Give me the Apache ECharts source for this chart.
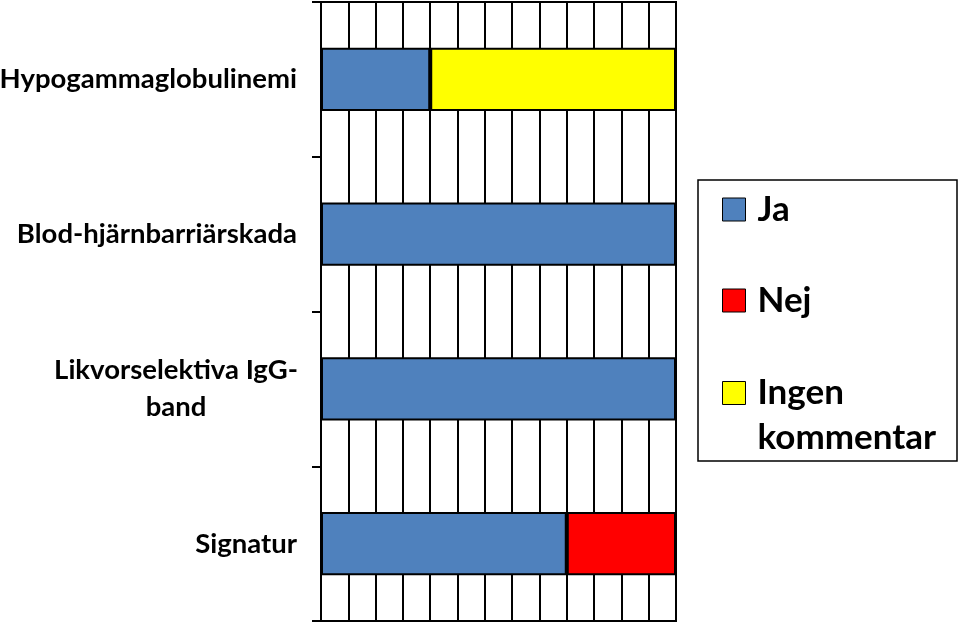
<!DOCTYPE html>
<html>
<head>
<meta charset="utf-8">
<script src="https://cdn.jsdelivr.net/npm/echarts@6/dist/echarts.min.js"></script>
<style>html,body{margin:0;padding:0;background:#fff;}#c{width:960px;height:624px;}</style>
</head>
<body>
<div id="c"></div>
<script>
const categories = ['Hypogammaglobulinemi', 'Blod-hjärnbarriärskada', 'Likvorselektiva IgG-band', 'Signatur'];
const jaValues = [4, 13, 13, 9];
const nejValues = [0, 0, 0, 4];
const ingenValues = [9, 0, 0, 0];
const seriesNames = ['Ja', 'Nej', 'Ingen kommentar'];
const xMin = 0, xMax = 13, xStep = 1;

const chart = echarts.init(document.getElementById('c'));
const font = 'Lato';
const barStyle = (color) => ({ color: color, borderColor: '#000', borderWidth: 2 });
const legendText = { fontFamily: font, fontWeight: 'bold', fontSize: 35, color: '#000', lineHeight: 44 };
const legendRich = {
  p: { fontSize: 10, lineHeight: 44 },
  a: { fontFamily: font, fontWeight: 'bold', fontSize: 35, color: '#000', lineHeight: 45, padding: [0, 0, 0, 7] }
};

chart.setOption({
  animation: false,
  backgroundColor: '#fff',
  grid: { left: 321, top: 2, width: 355, height: 619, outerBoundsMode: 'none', containLabel: false,
    show: true, borderColor: '#000', borderWidth: 2, backgroundColor: 'transparent' },
  xAxis: {
    type: 'value', min: xMin, max: xMax, interval: xStep,
    axisLabel: { show: false }, axisTick: { show: false },
    axisLine: { show: true, lineStyle: { color: '#000', width: 2 } },
    splitLine: { show: true, lineStyle: { color: '#000', width: 2 } }
  },
  yAxis: {
    type: 'category', data: categories, inverse: true,
    axisLine: { show: true, lineStyle: { color: '#000', width: 2 } },
    axisTick: { show: true, length: 9, lineStyle: { color: '#000', width: 2 } },
    axisLabel: {
      margin: 24, color: '#000', fontFamily: font, fontWeight: 'bold', fontSize: 27.5, lineHeight: 37,
      formatter: function (v) {
        if (v === 'Likvorselektiva IgG-band') return '{t|Likvorselektiva IgG-}\n{t|band}';
        return v;
      },
      rich: { t: { width: 242, align: 'center', fontFamily: font, fontWeight: 'bold', fontSize: 27.5, lineHeight: 37, color: '#000' } }
    }
  },
  legend: [
    { data: ['Ja'], left: 722, top: 187, padding: 0, icon: 'rect', itemWidth: 23, itemHeight: 23,
      formatter: '{a|{name}}',
      itemStyle: { borderWidth: 1, borderColor: '#000' }, textStyle: Object.assign({ rich: legendRich }, legendText) },
    { data: ['Nej'], left: 722, top: 278, padding: 0, icon: 'rect', itemWidth: 23, itemHeight: 23,
      formatter: '{a|{name}}',
      itemStyle: { borderWidth: 1, borderColor: '#000' }, textStyle: Object.assign({ rich: legendRich }, legendText) },
    { data: ['Ingen kommentar'], left: 722, top: 326, padding: 0, icon: 'rect', itemWidth: 23, itemHeight: 23,
      formatter: function () { return '{p| }\n{a|Ingen}\n{a|kommentar}'; },
      itemStyle: { borderWidth: 1, borderColor: '#000' }, textStyle: Object.assign({ rich: legendRich }, legendText) }
  ],
  graphic: [
    { type: 'rect', shape: { x: 698, y: 180, width: 259, height: 281 }, style: { fill: 'none', stroke: '#000', lineWidth: 1.5 }, z: 10 }
  ],
  series: [
    { name: seriesNames[0], type: 'bar', stack: 's', data: jaValues, barWidth: '41%', itemStyle: barStyle('#4F81BD') },
    { name: seriesNames[1], type: 'bar', stack: 's', data: nejValues, barWidth: '41%', itemStyle: barStyle('#FF0000') },
    { name: seriesNames[2], type: 'bar', stack: 's', data: ingenValues, barWidth: '41%', itemStyle: barStyle('#FFFF00') }
  ]
});
</script>
</body>
</html>
